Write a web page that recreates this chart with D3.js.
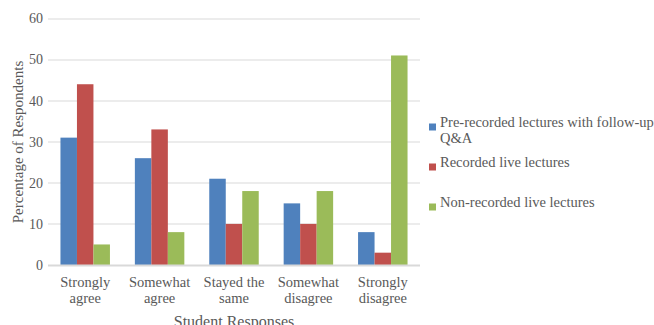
<!DOCTYPE html>
<html>
<head>
<meta charset="utf-8">
<script src="https://cdn.jsdelivr.net/npm/d3@7"></script>
<style>
  body { margin: 0; background: #fff; }
  text { font-family: "Liberation Serif", "DejaVu Serif", serif; fill: #595959; }
</style>
</head>
<body>
<svg id="chart" width="654" height="325"></svg>
<script>
var categories = [["Strongly", "agree"], ["Somewhat", "agree"], ["Stayed the", "same"], ["Somewhat", "disagree"], ["Strongly", "disagree"]];
var seriesNames = [["Pre-recorded lectures with follow-up", "Q&A"], ["Recorded live lectures"], ["Non-recorded live lectures"]];
var preRecorded = [31, 26, 21, 15, 8];
var recordedLive = [44, 33, 10, 10, 3];
var nonRecorded = [5, 8, 18, 18, 51];
var yTicks = [0, 10, 20, 30, 40, 50, 60];
var colors = ["#4f81bd", "#c0504d", "#9bbb59"];

var seriesValues = [preRecorded, recordedLive, nonRecorded];

var svg = d3.select("#chart"),
    margin = {top: 18.5, right: 234, bottom: 60, left: 48},
    width = +svg.attr("width") - margin.left - margin.right,
    height = +svg.attr("height") - margin.top - margin.bottom,
    g = svg.append("g").attr("transform", "translate(" + margin.left + "," + margin.top + ")");

var x = d3.scaleBand()
    .domain(d3.range(categories.length))
    .range([0, width])
    .paddingInner(0.335)
    .paddingOuter(0.1675);

var x1 = d3.scaleBand()
    .domain(d3.range(seriesValues.length))
    .range([0, x.bandwidth()]);

var y = d3.scaleLinear()
    .domain([0, 60])
    .range([height, 0]);

// gridlines
g.append("g")
    .selectAll("line")
    .data(yTicks.filter(d => d > 0))
    .enter().append("line")
    .attr("x1", 0)
    .attr("x2", width)
    .attr("y1", d => Math.round(y(d)) + 0.5)
    .attr("y2", d => Math.round(y(d)) + 0.5)
    .attr("stroke", "#d9d9d9")
    .attr("stroke-width", 1);

// bars
var groups = g.selectAll(".cat")
    .data(categories.map((c, i) => i))
    .enter().append("g")
    .attr("class", "cat")
    .attr("transform", d => "translate(" + x(d) + ",0)");

groups.selectAll("rect")
    .data(ci => seriesValues.map((s, si) => ({si: si, v: s[ci]})))
    .enter().append("rect")
    .attr("x", d => x1(d.si))
    .attr("y", d => y(d.v))
    .attr("width", x1.bandwidth())
    .attr("height", d => height - y(d.v))
    .attr("fill", d => colors[d.si]);

// x axis baseline
g.append("line")
    .attr("x1", 0)
    .attr("x2", width)
    .attr("y1", height + 0.5)
    .attr("y2", height + 0.5)
    .attr("stroke", "#d9d9d9")
    .attr("stroke-width", 2);

// y tick labels
g.append("g")
    .selectAll("text")
    .data(yTicks)
    .enter().append("text")
    .attr("x", -5)
    .attr("y", d => y(d))
    .attr("dy", "0.35em")
    .attr("text-anchor", "end")
    .style("font-size", "14px")
    .text(d => d);

// x category labels
var xl = g.append("g")
    .selectAll("text")
    .data(categories)
    .enter().append("text")
    .attr("x", (d, i) => x(i) + x.bandwidth() / 2)
    .attr("y", height + 22)
    .attr("text-anchor", "middle")
    .style("font-size", "14.5px");

xl.selectAll("tspan")
    .data(d => d)
    .enter().append("tspan")
    .attr("x", function() { return d3.select(this.parentNode).attr("x"); })
    .attr("dy", (d, i) => i === 0 ? 0 : 15.5)
    .text(d => d);

// axis titles
svg.append("text")
    .attr("x", 234)
    .attr("y", 327)
    .attr("text-anchor", "middle")
    .style("font-size", "16px")
    .text("Student Responses");

svg.append("text")
    .attr("transform", "translate(23," + 142 + ") rotate(-90)")
    .attr("text-anchor", "middle")
    .style("font-size", "15px")
    .text("Percentage of Respondents");

// legend
var legendY = [127, 167, 207];
var legend = svg.append("g")
    .selectAll("g")
    .data(seriesNames)
    .enter().append("g")
    .attr("transform", (d, i) => "translate(429," + legendY[i] + ")");

legend.append("rect")
    .attr("x", 0)
    .attr("y", -3.5)
    .attr("width", 7)
    .attr("height", 7)
    .attr("fill", (d, i) => colors[i]);

legend.append("text")
    .attr("x", 11)
    .attr("y", 0)
    .attr("dy", "0.35em")
    .style("font-size", "14.5px")
    .selectAll("tspan")
    .data(d => d)
    .enter().append("tspan")
    .attr("x", 11)
    .attr("dy", (d, i) => i === 0 ? 0 : 15.5)
    .text(d => d);
</script>
</body>
</html>
